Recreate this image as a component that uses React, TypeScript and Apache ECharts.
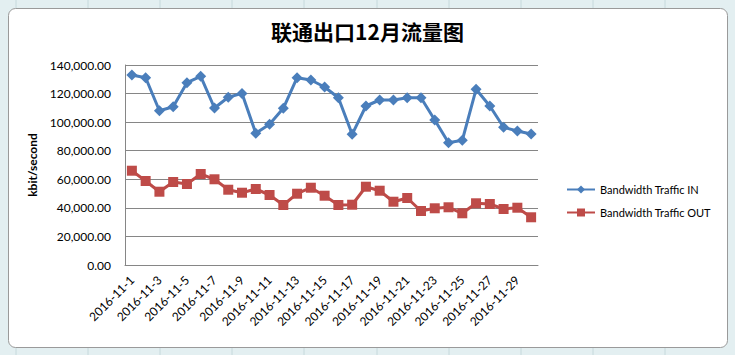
import React, { useEffect, useRef } from "react";
import * as echarts from "echarts";

const categories: string[] = [
  "2016-11-1", "2016-11-2", "2016-11-3", "2016-11-4", "2016-11-5", "2016-11-6",
  "2016-11-7", "2016-11-8", "2016-11-9", "2016-11-10", "2016-11-11", "2016-11-12",
  "2016-11-13", "2016-11-14", "2016-11-15", "2016-11-16", "2016-11-17", "2016-11-18",
  "2016-11-19", "2016-11-20", "2016-11-21", "2016-11-22", "2016-11-23", "2016-11-24",
  "2016-11-25", "2016-11-26", "2016-11-27", "2016-11-28", "2016-11-29", "2016-11-30",
];

const trafficIn: number[] = [
  133000, 131100, 108000, 110800, 127600, 132100, 109900, 117400, 120100, 92200,
  98500, 109700, 131100, 129500, 124600, 117100, 91500, 111300, 115500, 115500,
  117100, 117100, 101500, 85600, 87300, 123000, 111300, 96400, 93800, 91700,
];

const trafficOut: number[] = [
  66000, 58800, 51300, 58100, 56700, 63700, 60000, 52700, 50600, 53200,
  49000, 42000, 49900, 54100, 48500, 42000, 42200, 54800, 52000, 44300,
  46900, 37800, 39700, 40400, 36200, 43200, 42700, 39200, 40100, 33400,
];

const seriesNames: string[] = ["Bandwidth Traffic IN", "Bandwidth Traffic OUT"];
const titleText = "联通出口12月流量图";
const yAxisName = "kbit/second";

const sheetColumns: number[] = [16, 88, 160, 232, 304, 377, 449, 521, 593, 665];

export default function App() {
  const ref = useRef<HTMLDivElement>(null);

  useEffect(() => {
    if (!ref.current) return;
    const chart = echarts.init(ref.current, null, { renderer: "svg" });
    const font = "Lato, 'Open Sans', sans-serif";

    const sheetLines: any[] = [];
    sheetColumns.forEach((x) => {
      sheetLines.push({ type: "line", shape: { x1: x, y1: 0, x2: x, y2: 8 }, style: { stroke: "#c6d9dc", lineWidth: 1 }, silent: true, z: 0 });
      sheetLines.push({ type: "line", shape: { x1: x, y1: 347, x2: x, y2: 355 }, style: { stroke: "#c6d9dc", lineWidth: 1 }, silent: true, z: 0 });
    });

    chart.setOption({
      animation: false,
      backgroundColor: "#e3eff1",
      graphic: [
        ...sheetLines,
        {
          type: "rect",
          shape: { x: 8.5, y: 8.5, width: 719, height: 339, r: 7 },
          style: { fill: "#ffffff", stroke: "#9a9a9a", lineWidth: 1 },
          silent: true,
          z: 0,
          zlevel: 0,
        },
      ],
      title: {
        text: titleText,
        left: "center",
        top: 15,
        textStyle: {
          fontFamily: "'Noto Sans CJK SC', sans-serif",
          fontSize: 21,
          fontWeight: "bold",
          color: "#000000",
        },
      },
      legend: {
        orient: "vertical",
        left: 561,
        top: 179,
        itemWidth: 28,
        itemHeight: 10,
        itemGap: 12,
        textStyle: { fontFamily: font, fontSize: 11, color: "#000000" },
        data: seriesNames,
      },
      grid: { left: 125, right: 197, top: 65, bottom: 90 },
      xAxis: {
        type: "category",
        data: categories,
        boundaryGap: true,
        axisLine: { lineStyle: { color: "#868686", width: 1 } },
        axisTick: { show: false },
        axisLabel: {
          interval: 1,
          rotate: 45,
          margin: 13,
          fontFamily: font,
          fontSize: 12,
          color: "#000000",
        },
      },
      yAxis: {
        type: "value",
        min: 0,
        max: 140000,
        interval: 20000,
        name: yAxisName,
        nameLocation: "middle",
        nameGap: 84,
        nameTextStyle: { fontFamily: font, fontSize: 12, fontWeight: "bold", color: "#000000" },
        axisLine: { show: true, lineStyle: { color: "#868686", width: 1 } },
        axisTick: { show: false },
        splitLine: { lineStyle: { color: "#868686", width: 1 } },
        axisLabel: {
          margin: 14,
          fontFamily: font,
          fontSize: 12,
          color: "#000000",
          formatter: (v: number) =>
            v.toLocaleString("en-US", { minimumFractionDigits: 2, maximumFractionDigits: 2 }),
        },
      },
      series: [
        {
          name: seriesNames[0],
          type: "line",
          data: trafficIn,
          symbol: "diamond",
          symbolSize: 11,
          showAllSymbol: true,
          itemStyle: { color: "#4a7ebb" },
          lineStyle: { color: "#4a7ebb", width: 3 },
        },
        {
          name: seriesNames[1],
          type: "line",
          data: trafficOut,
          symbol: "rect",
          symbolSize: 10,
          showAllSymbol: true,
          itemStyle: { color: "#be4b48" },
          lineStyle: { color: "#be4b48", width: 3 },
        },
      ],
    });
    return () => chart.dispose();
  }, []);

  return (
    <div
      ref={ref}
      style={{ position: "fixed", left: 0, top: 0, width: 735, height: 355 }}
    />
  );
}
